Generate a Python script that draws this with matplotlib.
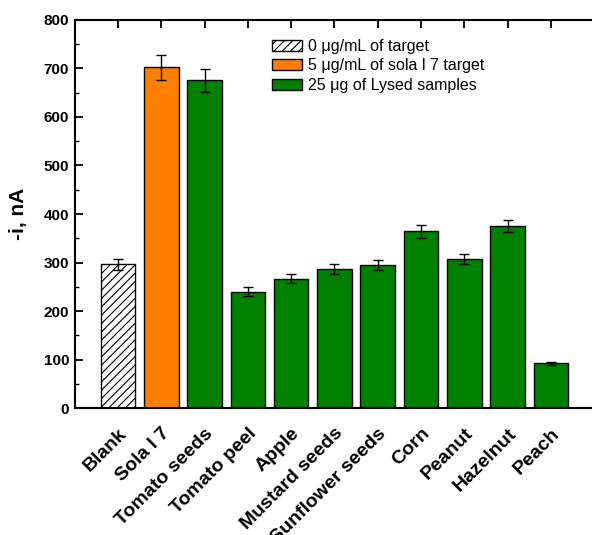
import matplotlib.pyplot as plt
from matplotlib.patches import Patch
from matplotlib.ticker import MultipleLocator
from matplotlib.transforms import ScaledTranslation

plt.rcParams['font.family'] = ['Liberation Sans', 'DejaVu Sans']
plt.rcParams['hatch.linewidth'] = 0.8

# echantillons et courants mesures
echantillons = ["Blank", "Sola l 7", "Tomato seeds", "Tomato peel", "Apple",
                "Mustard seeds", "Sunflower seeds", "Corn", "Peanut",
                "Hazelnut", "Peach"]
courant = [296, 702, 675, 240, 267, 287, 295, 364, 307, 375, 93]
erreur = [11, 25, 24, 9, 10, 10, 11, 13, 11, 13, 3]

legende = ["0 μg/mL of target", "5 μg/mL of sola l 7 target",
           "25 μg of Lysed samples"]

orange = "#FF8000"
vert = "#008000"
couleurs = ["white", orange] + [vert] * (len(echantillons) - 2)

fig = plt.figure(figsize=(5.92, 5.35), dpi=100)
ax = fig.add_axes([0.126, 0.237, 0.878, 0.726])

x = list(range(len(echantillons)))
barres = ax.bar(x, courant, width=0.8, color=couleurs, edgecolor="black",
                linewidth=1.0, zorder=2)
barres[0].set_hatch("////")
ax.errorbar(x, courant, yerr=erreur, fmt="none", ecolor="black",
            elinewidth=1.0, capsize=3.5, capthick=1.0, zorder=3)

ax.set_xlim(-1, 11)
ax.set_ylim(0, 800)
ax.set_xticks(x)
ax.set_xticklabels(echantillons, rotation=45, ha="right",
                   rotation_mode="anchor", fontsize=14, fontweight="bold")
# petit decalage vers la gauche des etiquettes inclinees
decalage = ScaledTranslation(-0.05, 0, fig.dpi_scale_trans)
for lab in ax.get_xticklabels():
    lab.set_transform(lab.get_transform() + decalage)
ax.xaxis.set_minor_locator(MultipleLocator(0.5))
ax.yaxis.set_major_locator(MultipleLocator(100))
ax.yaxis.set_minor_locator(MultipleLocator(50))
for lab in ax.get_yticklabels():
    lab.set_fontweight("bold")
    lab.set_fontsize(11)

ax.tick_params(axis="both", which="major", direction="out", length=6,
               width=1.3, pad=4)
ax.tick_params(axis="both", which="minor", direction="out", length=3,
               width=1.0)
ax.tick_params(axis="x", which="minor", length=0)
ax.tick_params(top=True, which="both", direction="in")
ax.tick_params(axis="x", which="major", top=True, length=6)
ax.tick_params(axis="x", which="major", pad=12)
for cote in ["left", "bottom", "top"]:
    ax.spines[cote].set_linewidth(1.5)
ax.spines["right"].set_visible(False)

ax.set_ylabel("-i, nA", fontsize=15, fontweight="bold", labelpad=11)

poignees = [Patch(facecolor="white", edgecolor="black", hatch="////"),
            Patch(facecolor=orange, edgecolor="black"),
            Patch(facecolor=vert, edgecolor="black")]
ax.legend(poignees, legende, loc="upper left", bbox_to_anchor=(0.358, 0.98),
          frameon=False, fontsize=11.5, handlelength=1.9, handleheight=0.7,
          labelspacing=0.28, handletextpad=0.35, borderaxespad=0.3)

plt.savefig("out.png", dpi=100)
